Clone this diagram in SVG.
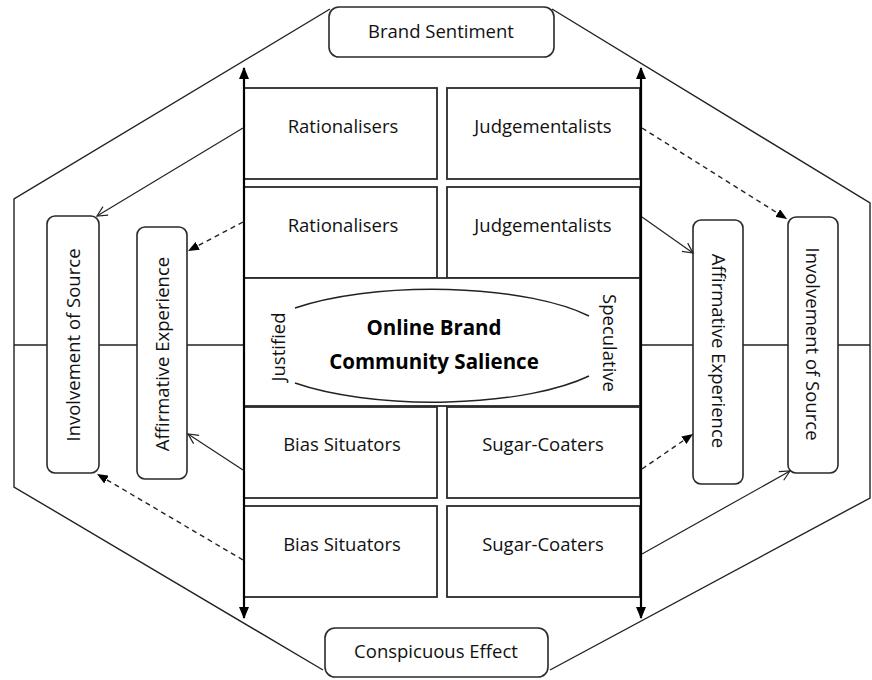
<svg xmlns="http://www.w3.org/2000/svg" width="872" height="680" viewBox="0 0 872 680">
<style>
.t{font-family:"Open Sans","Noto Sans","Liberation Sans",sans-serif;font-size:18.5px;fill:#111;text-anchor:middle}
.b{font-weight:bold;font-size:20.5px;fill:#000}
.box{fill:#fff;stroke:#2a2a2a;stroke-width:1.8}
.rb{fill:#fff;stroke:#2a2a2a;stroke-width:1.6}
.ol{fill:none;stroke:#222;stroke-width:1.4}
.sol{fill:none;stroke:#222;stroke-width:1.2;marker-end:url(#open)}
.dsh{fill:none;stroke:#222;stroke-width:1.4;stroke-dasharray:5 4;marker-end:url(#fill)}
.vax{fill:none;stroke:#000;stroke-width:2.2;marker-start:url(#big);marker-end:url(#big)}
</style>
<defs>
<marker id="big" markerUnits="userSpaceOnUse" markerWidth="12" markerHeight="10" viewBox="0 0 12 10" refX="11" refY="5" orient="auto-start-reverse"><path d="M0,0 L12,5 L0,10 z" fill="#000"/></marker>
<marker id="fill" markerUnits="userSpaceOnUse" markerWidth="11" markerHeight="9" viewBox="0 0 11 9" refX="11" refY="4.5" orient="auto"><path d="M0,0 L11,4.5 L0,9 z" fill="#000"/></marker>
<marker id="open" markerUnits="userSpaceOnUse" markerWidth="12" markerHeight="12" viewBox="0 0 12 12" refX="11" refY="6" orient="auto"><path d="M1,1 L11,6 L1,11" fill="none" stroke="#222" stroke-width="1.2"/></marker>
</defs>

<g id="outline">
<path class="ol" d="M330,9 L14,199 L14,487 L323,670"/>
<path class="ol" d="M552,9 L870,203 L870,498 L550,670"/>
<path class="ol" d="M14,345 H47 M99,345 H137 M187,345 H244 M641,345 H693 M743,345 H788 M838,345 H870"/>
</g>

<g id="brand-sentiment"><rect class="rb" x="329" y="7" width="225" height="50" rx="10"/><text class="t" x="441" y="38">Brand Sentiment</text></g>
<g id="conspicuous-effect"><rect class="rb" x="325" y="628" width="223" height="49" rx="10"/><text class="t" x="436" y="658">Conspicuous Effect</text></g>

<g id="rationalisers-1"><rect class="box" x="244" y="88" width="193" height="91"/><text class="t" x="343" y="133">Rationalisers</text></g>
<g id="judgementalists-1"><rect class="box" x="447" y="88" width="193" height="91"/><text class="t" x="543" y="133">Judgementalists</text></g>
<g id="rationalisers-2"><rect class="box" x="244" y="187" width="193" height="91"/><text class="t" x="343" y="232">Rationalisers</text></g>
<g id="judgementalists-2"><rect class="box" x="447" y="187" width="193" height="91"/><text class="t" x="543" y="232">Judgementalists</text></g>

<g id="salience">
<rect class="box" x="244" y="278" width="396" height="128"/>
<path class="ol" d="M295,308 A185,57 0 0 1 589,316"/>
<path class="ol" d="M295,383 A185,57 0 0 0 589,376"/>
<text class="t b" x="434" y="335">Online Brand</text>
<text class="t b" x="434" y="369">Community Salience</text>
<text class="t" transform="translate(278,347) rotate(-90)" y="7">Justified</text>
<text class="t" transform="translate(609,343) rotate(90)" y="6">Speculative</text>
</g>

<g id="bias-situators-1"><rect class="box" x="244" y="407" width="193" height="91"/><text class="t" x="342" y="451">Bias Situators</text></g>
<g id="sugar-coaters-1"><rect class="box" x="447" y="407" width="193" height="91"/><text class="t" x="543" y="451">Sugar-Coaters</text></g>
<g id="bias-situators-2"><rect class="box" x="244" y="506" width="193" height="91"/><text class="t" x="342" y="551">Bias Situators</text></g>
<g id="sugar-coaters-2"><rect class="box" x="447" y="506" width="193" height="91"/><text class="t" x="543" y="551">Sugar-Coaters</text></g>

<g id="involvement-left"><rect class="rb" x="47" y="216" width="52" height="257" rx="8"/><text class="t" transform="translate(73,345) rotate(-90)" y="7">Involvement of Source</text></g>
<g id="affirmative-left"><rect class="rb" x="137" y="227" width="50" height="252" rx="8"/><text class="t" transform="translate(162,354) rotate(-90)" y="7">Affirmative Experience</text></g>
<g id="affirmative-right"><rect class="rb" x="693" y="220" width="50" height="264" rx="8"/><text class="t" transform="translate(718,351) rotate(90)" y="6">Affirmative Experience</text></g>
<g id="involvement-right"><rect class="rb" x="788" y="217" width="50" height="256" rx="8"/><text class="t" transform="translate(813,344) rotate(90)" y="7">Involvement of Source</text></g>

<g id="connectors">
<path class="vax" d="M244,68 V618"/>
<path class="vax" d="M641,68 V618"/>
<path class="sol" d="M243,128 L97,216"/>
<path class="dsh" d="M243,222 L188,251"/>
<path class="sol" d="M243,470 L188,434"/>
<path class="dsh" d="M243,560 L97,474"/>
<path class="dsh" d="M642,128 L787,219"/>
<path class="sol" d="M642,217 L693,253"/>
<path class="dsh" d="M642,469 L693,434"/>
<path class="sol" d="M642,554 L790,471"/>
</g>
</svg>
